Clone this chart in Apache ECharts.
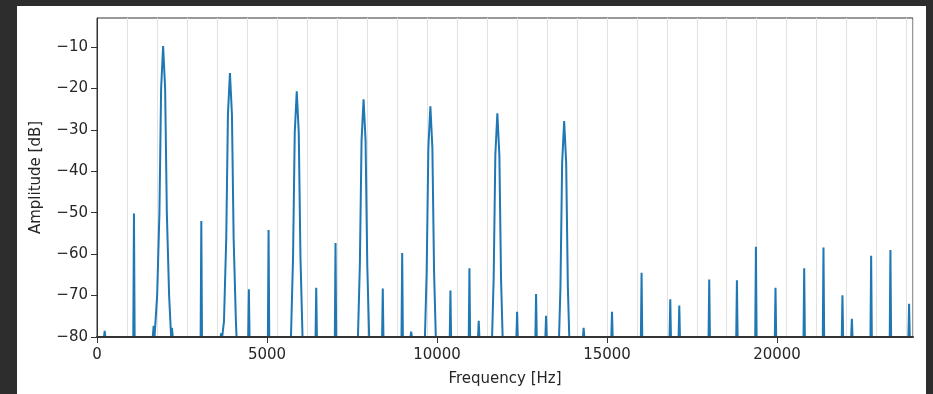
<!DOCTYPE html>
<html>
<head>
<meta charset="utf-8">
<script src="https://cdn.jsdelivr.net/npm/echarts@6/dist/echarts.min.js"></script>
<style>
  html, body { margin: 0; padding: 0; width: 933px; height: 394px; overflow: hidden; background: #2d2d2d; }
  #fig { position: absolute; left: 17px; top: 6px; width: 909px; height: 388px; background: #ffffff; }
</style>
</head>
<body>
<div id="fig"></div>
<script>
// Magnitude spectrum (one point per [frequency, level] pair), floor at -80 dB
const freqHz = [
  0,
  206, 226, 246,
  1067, 1087, 1107,
  1640, 1666, 1692,
  1710, 1769, 1836, 1886, 1945, 2004, 2054, 2121, 2180,
  2204, 2228,
  3048, 3068, 3088,
  3630, 3656, 3682,
  3715, 3734, 3801, 3851, 3910, 3969, 4019, 4086, 4105,
  4447, 4467, 4487,
  5026, 5046, 5066,
  5705, 5766, 5816, 5875, 5934, 5984, 6045,
  6428, 6448, 6468,
  6995, 7015, 7035,
  7675, 7731, 7781, 7840, 7899, 7949, 8005,
  8385, 8405, 8425,
  8956, 8976, 8996,
  9220, 9240, 9260,
  9645, 9696, 9746, 9805, 9864, 9914, 9965,
  10375, 10395, 10415,
  10934, 10954, 10974,
  11207, 11227, 11247,
  11620, 11666, 11716, 11775, 11834, 11884, 11930,
  12336, 12356, 12376,
  12894, 12914, 12934,
  13188, 13208, 13228,
  13590, 13631, 13681, 13740, 13799, 13849, 13890,
  14293, 14313, 14333,
  15127, 15147, 15167,
  15997, 16017, 16037,
  16841, 16861, 16881,
  17106, 17126, 17146,
  17987, 18007, 18027,
  18801, 18821, 18841,
  19360, 19380, 19400,
  19936, 19956, 19976,
  20780, 20800, 20820,
  21347, 21367, 21387,
  21905, 21925, 21945,
  22182, 22202, 22222,
  22749, 22769, 22789,
  23316, 23336, 23356,
  23865, 23885, 23905,
  24000
];

const amplitudeDb = [
  -80,
  -80, -78.5, -80,
  -80, -50.2, -80,
  -80, -77.3, -80,
  -80, -70, -50, -20, -9.8, -20, -50, -70, -80,
  -77.8, -80,
  -80, -52.0, -80,
  -80, -79.1, -80,
  -80, -76.3, -56.3, -26.3, -16.3, -26.3, -56.3, -76.3, -80,
  -80, -68.5, -80,
  -80, -54.2, -80,
  -80, -60.7, -30.7, -20.7, -30.7, -60.7, -80,
  -80, -68.1, -80,
  -80, -57.3, -80,
  -80, -62.6, -32.6, -22.6, -32.6, -62.6, -80,
  -80, -68.3, -80,
  -80, -59.7, -80,
  -80, -78.7, -80,
  -80, -64.3, -34.3, -24.3, -34.3, -64.3, -80,
  -80, -68.8, -80,
  -80, -63.4, -80,
  -80, -76.1, -80,
  -80, -66.0, -36.0, -26.0, -36.0, -66.0, -80,
  -80, -73.9, -80,
  -80, -69.6, -80,
  -80, -74.9, -80,
  -80, -67.9, -37.9, -27.9, -37.9, -67.9, -80,
  -80, -77.8, -80,
  -80, -73.9, -80,
  -80, -64.5, -80,
  -80, -70.9, -80,
  -80, -72.4, -80,
  -80, -66.1, -80,
  -80, -66.3, -80,
  -80, -58.2, -80,
  -80, -68.1, -80,
  -80, -63.4, -80,
  -80, -58.4, -80,
  -80, -69.9, -80,
  -80, -75.6, -80,
  -80, -60.4, -80,
  -80, -59.0, -80,
  -80, -72.0, -80,
  -80
];

const xTicks = [0, 5000, 10000, 15000, 20000];
const yTicks = [-80, -70, -60, -50, -40, -30, -20, -10];
const gridStepHz = 882;   // spacing of the vertical reference lines

const font = 'DejaVu Sans';
const textColor = '#262626';
const frameColor = '#333333';
const minus = v => (v < 0 ? '\u2212' + Math.abs(v) : String(v));

const chart = echarts.init(document.getElementById('fig'), null, { renderer: 'canvas' });

chart.setOption({
  animation: false,
  grid: {
    left: 80, top: 12, right: 13, bottom: 57,
    show: true, borderColor: frameColor, borderWidth: 1, backgroundColor: 'transparent'
  },
  xAxis: [
    {
      type: 'value', min: 0, max: 24000, z: 10,
      name: 'Frequency [Hz]', nameLocation: 'middle', nameGap: 35,
      nameTextStyle: { fontFamily: font, fontSize: 15, color: textColor },
      axisLine: { show: true, onZero: false, lineStyle: { color: frameColor, width: 2 } },
      axisTick: { show: true, length: 6, customValues: xTicks, lineStyle: { color: frameColor } },
      axisLabel: { customValues: xTicks, margin: 11, fontFamily: font, fontSize: 15, color: textColor, formatter: v => String(v) },
      splitLine: { show: false }
    },
    {
      type: 'value', min: 0, max: 24000, interval: gridStepHz, position: 'bottom',
      axisLine: { show: false }, axisTick: { show: false }, axisLabel: { show: false },
      splitLine: { show: true, lineStyle: { color: '#e2e2e2', width: 1 } }
    }
  ],
  yAxis: {
    type: 'value', min: -80, max: -3, z: 10,
    name: 'Amplitude [dB]', nameLocation: 'middle', nameGap: 53, nameRotate: 90,
    nameTextStyle: { fontFamily: font, fontSize: 15, color: textColor },
    axisLine: { show: true, onZero: false, lineStyle: { color: frameColor, width: 1 } },
    axisTick: { show: true, length: 6, customValues: yTicks, lineStyle: { color: frameColor } },
    axisLabel: { customValues: yTicks, margin: 9, fontFamily: font, fontSize: 15, color: textColor, formatter: minus },
    splitLine: { show: false }
  },
  series: [{
    type: 'line',
    xAxisIndex: 0,
    data: freqHz.map((f, i) => [f, amplitudeDb[i]]),
    showSymbol: false,
    clip: true,
    lineStyle: { color: '#1f77b4', width: 2 },
    z: 2
  }]
});
</script>
</body>
</html>
